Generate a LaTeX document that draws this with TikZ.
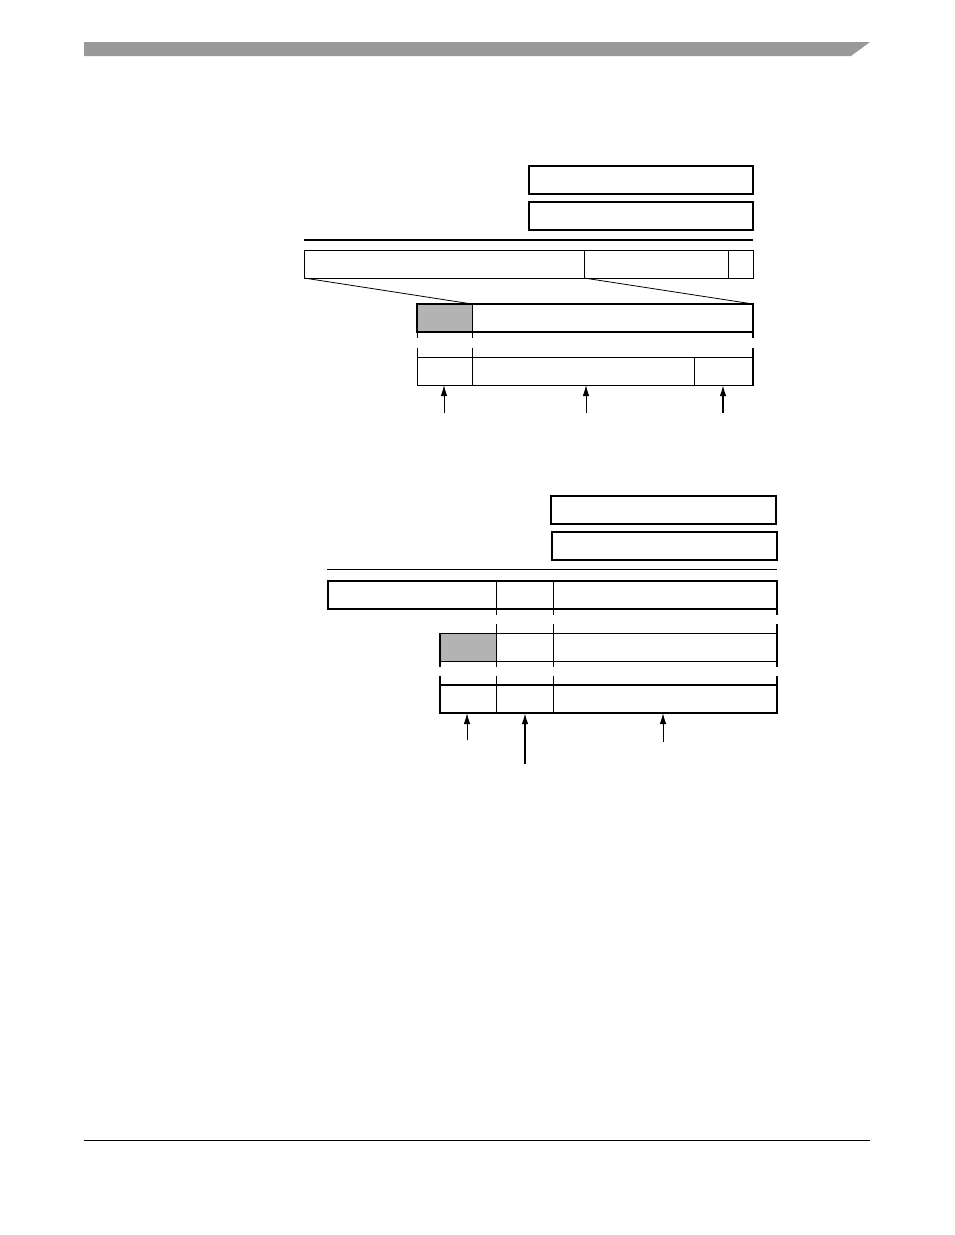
\documentclass[tikz,border=0pt]{standalone}
\usetikzlibrary{arrows.meta, positioning}
\definecolor{bargray}{RGB}{153, 153, 153}
\definecolor{cellgray}{RGB}{179, 179, 179}

\begin{document}
\begin{tikzpicture}[x=1pt, y=-1pt,
  regbox/.style={draw, line width=2pt, inner sep=0pt, outer sep=0pt, anchor=north west, minimum height=28pt},
  cellbox/.style={draw, line width=1pt, inner sep=0pt, outer sep=0pt, anchor=north west, minimum height=28pt},
  shaded/.style={fill=cellgray},
  tickline/.style={line width=1pt},
  thickline/.style={line width=2pt},
  uparrow/.style={line width=1pt, -{Latex[length=11pt, width=6.5pt]}}
]
  \useasboundingbox (0,0) rectangle (954,1235);

  % Page header and footer
  \fill[bargray] (84,42) -- (870,42) -- (851,56) -- (84,56) -- cycle;
  \draw[line width=1pt] (84,1140) -- (870,1140);

  % Upper figure: two boxes and rule
  \node[regbox, minimum width=224pt] (cfgA) at (529,166) {};
  \node[regbox, minimum width=224pt] (cfgB) at (529,202) {};
  \draw[thickline] (304,240) -- (753,240);

  % Upper figure: register row
  \node[cellbox, minimum width=280pt] (regA) at (304,250) {};
  \node[cellbox, minimum width=144pt, right=0pt of regA] (regB) {};
  \node[cellbox, minimum width=25pt, right=0pt of regB] (regC) {};

  % Upper figure: shaded row
  \node[cellbox, shaded, minimum width=55pt] (pteA) at (417,304) {};
  \node[cellbox, minimum width=281pt, right=0pt of pteA] (pteB) {};
  \draw[thickline] (pteA.north west) rectangle (pteB.south east);
  \draw[line width=0.8pt] (regA.south west) -- (pteB.north west);
  \draw[line width=0.8pt] (regB.south west) -- (pteB.north east);

  % Upper figure: address row
  \node[cellbox, minimum width=55pt] (addrA) at (417,357) {};
  \node[cellbox, minimum width=222pt, right=0pt of addrA] (addrB) {};
  \node[cellbox, minimum width=59pt, right=0pt of addrB] (addrC) {};
  \draw[thickline] (addrC.north east) -- (addrC.south east);

  \foreach \a in {pteA.south west, pteB.south west}
    \draw[tickline] (\a) -- ++(0,6);
  \draw[thickline] (pteB.south east) -- ++(0,6);
  \foreach \a in {addrA.north west, addrB.north west}
    \draw[tickline] (\a) -- ++(0,-9);
  \draw[thickline] (addrC.north east) -- ++(0,-9);

  \coordinate (srcA) at (444,413);
  \coordinate (srcB) at (586,413);
  \coordinate (srcC) at (723,413);
  \draw[uparrow] (srcA) -- (srcA |- addrA.south);
  \draw[uparrow] (srcB) -- (srcB |- addrB.south);
  \draw[uparrow, line width=1.6pt] (srcC) -- (srcC |- addrC.south);

  % Lower figure: two boxes and rule
  \node[regbox, minimum width=225pt] (cfgC) at (551,496) {};
  \node[regbox, minimum width=225pt] (cfgD) at (552,532) {};
  \draw[tickline] (327,569) -- (777,569);

  % Lower figure: register row
  \node[cellbox, minimum width=168pt] (rowA) at (328,581) {};
  \node[cellbox, minimum width=57pt, right=0pt of rowA] (rowB) {};
  \node[cellbox, minimum width=224pt, right=0pt of rowB] (rowC) {};
  \draw[thickline] (rowA.north west) rectangle (rowC.south east);

  % Lower figure: shaded row
  \node[cellbox, shaded, minimum width=56pt] (entA) at (440,633) {};
  \node[cellbox, minimum width=57pt, right=0pt of entA] (entB) {};
  \node[cellbox, minimum width=224pt, right=0pt of entB] (entC) {};
  \draw[thickline] (entA.north west) -- (entA.south west);
  \draw[thickline] (entC.north east) -- (entC.south east);

  % Lower figure: address row
  \node[cellbox, minimum width=56pt] (outA) at (440,685) {};
  \node[cellbox, minimum width=57pt, right=0pt of outA] (outB) {};
  \node[cellbox, minimum width=224pt, right=0pt of outB] (outC) {};
  \draw[thickline] (outA.north west) rectangle (outC.south east);

  \foreach \a in {rowA.south east, rowB.south east}
    \draw[tickline] (\a) -- ++(0,6);
  \draw[thickline] (rowC.south east) -- ++(0,6);
  \foreach \a in {entA.north east, entB.north east}
    \draw[tickline] (\a) -- ++(0,-9);
  \draw[thickline] (entC.north east) -- ++(0,-9);
  \foreach \a in {entA.south east, entB.south east}
    \draw[tickline] (\a) -- ++(0,6);
  \draw[thickline] (entA.south west) -- ++(0,6);
  \draw[thickline] (entC.south east) -- ++(0,6);
  \foreach \a in {outA.north east, outB.north east}
    \draw[tickline] (\a) -- ++(0,-9);
  \draw[thickline] (outA.north west) -- ++(0,-9);
  \draw[thickline] (outC.north east) -- ++(0,-9);

  \coordinate (srcD) at (467,740);
  \coordinate (srcE) at (525,764);
  \coordinate (srcF) at (663,742);
  \draw[uparrow] (srcD) -- (srcD |- outA.south);
  \draw[uparrow, line width=1.6pt] (srcE) -- (srcE |- outB.south);
  \draw[uparrow] (srcF) -- (srcF |- outC.south);
\end{tikzpicture}
\end{document}
